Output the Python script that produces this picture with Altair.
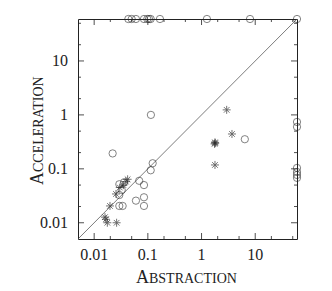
import altair as alt
import pandas as pd

# ---- data ----
circ_x = [0.0433, 0.050, 0.060, 0.0847, 0.0977, 0.105, 0.113, 0.168, 1.26, 8.0, 60,
          60, 60, 60, 60, 60, 60,
          0.114, 6.4, 0.0221, 0.123, 0.113, 0.069, 0.0847, 0.060, 0.0847, 0.0847,
          0.0294, 0.0326, 0.0294, 0.0294, 0.0339, 0.036]
circ_y = [60, 60, 60, 60, 60, 60, 60, 60, 60, 60, 60,
          0.74, 0.60, 0.104, 0.0875, 0.077, 0.068,
          1.0, 0.354, 0.193, 0.127, 0.094, 0.060, 0.050, 0.0257, 0.0297, 0.0205,
          0.0518, 0.0405, 0.0327, 0.0205, 0.0205, 0.056]
star_x = [2.94, 3.69, 1.75, 1.80, 1.78, 1.78, 0.042, 0.039, 0.0255, 0.030, 0.035,
          0.0197, 0.0159, 0.0166, 0.0176, 0.0262]
star_y = [1.24, 0.443, 0.29, 0.30, 0.31, 0.118, 0.064, 0.058, 0.0342, 0.045, 0.050,
          0.0205, 0.0127, 0.0116, 0.0100, 0.0100]
domain = [0.005, 60]
major_ticks = [0.01, 0.1, 1, 10]
major_labels = ["0.01", "0.1", "1", "10"]
minor_ticks = [0.02, 0.05, 0.2, 0.5, 2, 5, 20, 50]
x_title = ["A", "BSTRACTION"]
y_title = ["A", "CCELERATION"]

W, H = 219, 220
FONT = "Liberation Serif"
INK = "#222222"

xs = alt.Scale(type="log", domain=domain, nice=False)
ys = alt.Scale(type="log", domain=domain, nice=False)

circles = alt.Chart(pd.DataFrame({"x": circ_x, "y": circ_y})).mark_point(
    shape="circle", filled=False, color=INK, strokeWidth=0.8, size=53
).encode(x=alt.X("x:Q", scale=xs, axis=None), y=alt.Y("y:Q", scale=ys, axis=None))

star_path = "M-1,0L1,0M0,-1L0,1M-0.7,-0.7L0.7,0.7M-0.7,0.7L0.7,-0.7"
stars = alt.Chart(pd.DataFrame({"x": star_x, "y": star_y})).mark_point(
    shape=star_path, filled=False, color=INK, strokeWidth=0.9, size=64
).encode(x=alt.X("x:Q", scale=xs, axis=None), y=alt.Y("y:Q", scale=ys, axis=None))

diag = alt.Chart(pd.DataFrame({"v": domain})).mark_line(
    color="#444444", strokeWidth=0.7
).encode(x=alt.X("v:Q", scale=xs, axis=None), y=alt.Y("v:Q", scale=ys, axis=None))


def tick_layers(vals, L):
    base = alt.Chart(pd.DataFrame({"v": vals})).mark_rule(color=INK, strokeWidth=0.8)
    xv = alt.X("v:Q", scale=xs, axis=None)
    yv = alt.Y("v:Q", scale=ys, axis=None)
    return [
        base.encode(x=xv, y=alt.value(H), y2=alt.value(H - L)),
        base.encode(x=xv, y=alt.value(0), y2=alt.value(L)),
        base.encode(y=yv, x=alt.value(0), x2=alt.value(L)),
        base.encode(y=yv, x=alt.value(W), x2=alt.value(W - L)),
    ]


ticks = tick_layers(major_ticks, 6) + tick_layers(minor_ticks, 3)

lab_df = pd.DataFrame({"v": major_ticks, "t": major_labels})
x_labels = alt.Chart(lab_df).mark_text(
    font=FONT, fontSize=16, align="center", baseline="alphabetic", color=INK
).encode(x=alt.X("v:Q", scale=xs, axis=None), y=alt.value(H + 21), text="t:N")
y_labels = alt.Chart(lab_df).mark_text(
    font=FONT, fontSize=16, align="right", baseline="middle", color=INK
).encode(y=alt.Y("v:Q", scale=ys, axis=None), x=alt.value(-10), text="t:N")

split_x = 71
xt1 = alt.Chart(pd.DataFrame({"t": [x_title[0]]})).mark_text(
    font=FONT, fontSize=18, align="right", baseline="alphabetic", color=INK
).encode(text="t:N", x=alt.value(split_x), y=alt.value(264))
xt2 = alt.Chart(pd.DataFrame({"t": [x_title[1]]})).mark_text(
    font=FONT, fontSize=14, align="left", baseline="alphabetic", color=INK
).encode(text="t:N", x=alt.value(split_x), y=alt.value(264))

split_y = 153
yt1 = alt.Chart(pd.DataFrame({"t": [y_title[0]]})).mark_text(
    font=FONT, fontSize=18, align="right", baseline="alphabetic", angle=270, color=INK
).encode(text="t:N", x=alt.value(-35), y=alt.value(split_y))
yt2 = alt.Chart(pd.DataFrame({"t": [y_title[1]]})).mark_text(
    font=FONT, fontSize=14, align="left", baseline="alphabetic", angle=270, color=INK
).encode(text="t:N", x=alt.value(-35), y=alt.value(split_y))

chart = alt.layer(diag, circles, stars, *ticks, x_labels, y_labels,
                  xt1, xt2, yt1, yt2).properties(
    width=W, height=H,
    autosize=alt.AutoSizeParams(type="none"),
    padding={"left": 70, "top": 11, "right": 20, "bottom": 50},
).configure_view(stroke=INK, strokeWidth=1)

chart.save("out.html", embed_options={"renderer": "svg", "actions": False})
